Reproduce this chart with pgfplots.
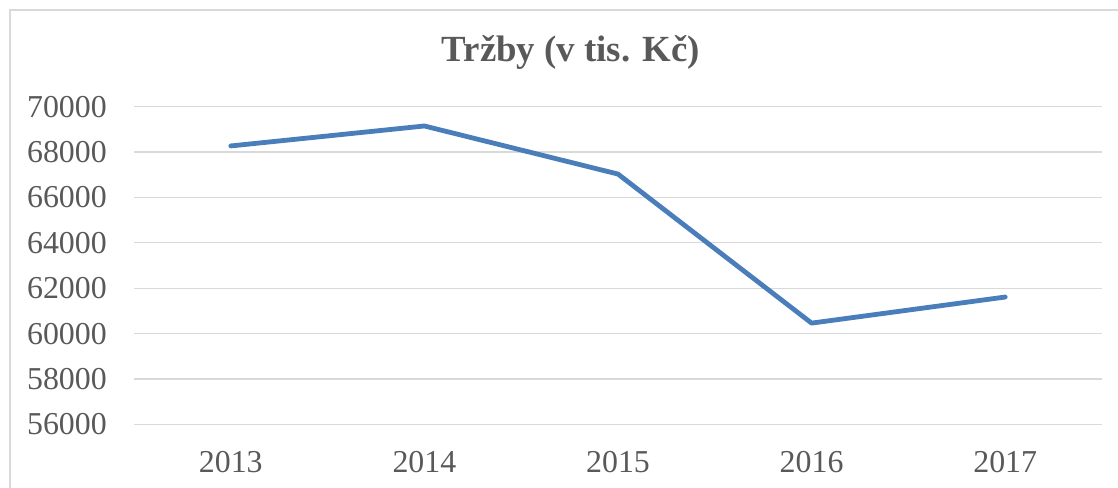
\documentclass[border=0pt]{standalone}
\usepackage{fontspec}
\setmainfont{Liberation Serif}
\usepackage{pgfplots}
\pgfplotsset{compat=1.18}
\definecolor{lineBlue}{HTML}{4A7EBB}
\definecolor{txtGray}{HTML}{595959}
\definecolor{gridGray}{HTML}{D9D9D9}
\definecolor{frameGray}{HTML}{D9D9D9}

\begin{document}
\begin{tikzpicture}
\clip (0,0) rectangle (1118bp,488bp);
\path[use as bounding box] (0,0) rectangle (1118bp,488bp);
\draw[frameGray, line width=1.2bp] (10bp,-20bp) rectangle (1140bp,478bp);
\begin{axis}[
    at={(134bp,63.7bp)}, anchor=south west,
    scale only axis,
    width=968bp, height=317.6bp,
    xmin=-0.5, xmax=4.5,
    ymin=56000, ymax=70000,
    xtick={0,1,2,3,4},
    xticklabels={2013,2014,2015,2016,2017},
    ytick={56000,58000,60000,62000,64000,66000,68000,70000},
    scaled y ticks=false,
    /pgf/number format/assume math mode=true,
    /pgf/number format/1000 sep={},
    axis line style={draw=none},
    major tick length=0pt,
    ymajorgrids,
    grid style={gridGray, line width=1.3bp},
    tick label style={font=\fontsize{32}{38}\selectfont, text=txtGray, inner sep=0pt},
    yticklabel style={anchor=east, xshift=-27bp},
    xticklabel style={anchor=center, yshift=-38bp},
  ]
\addplot[lineBlue, line width=4.8bp, line join=round, line cap=round] coordinates {
  (0,68270) (1,69150) (2,67030) (3,60460) (4,61610)
};
\end{axis}
\node[text=txtGray, font=\fontsize{37}{44}\selectfont\bfseries] at (571bp,436bp) {Tržby (v tis. Kč)};
\end{tikzpicture}
\end{document}
